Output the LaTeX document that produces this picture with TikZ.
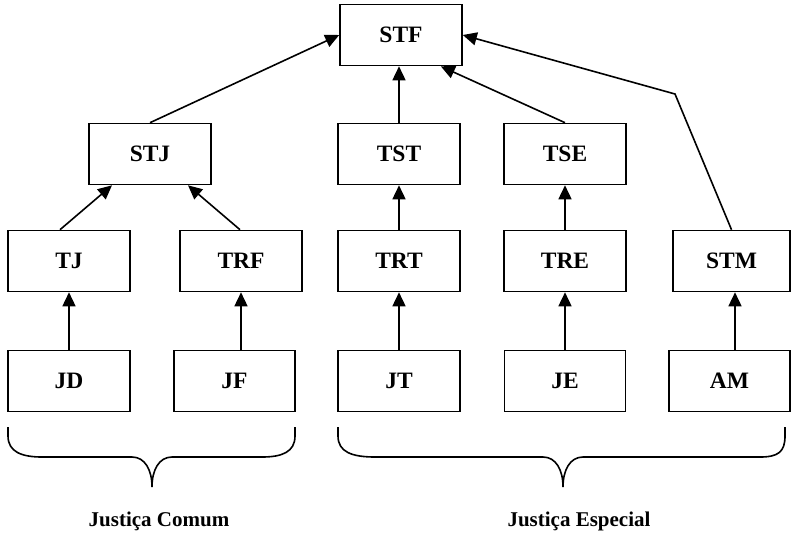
\documentclass[tikz,border=0pt]{standalone}
\usepackage{fontspec}
\setmainfont{Liberation Serif}
\usetikzlibrary{arrows.meta}
\begin{document}
\begin{tikzpicture}[x=1pt,y=-1pt,
  court/.style={draw,line width=1.6pt,minimum width=122pt,minimum height=61pt,inner sep=0pt,
    font=\fontsize{23.5}{25}\selectfont\bfseries},
  link/.style={line width=1.6pt,-{Triangle[length=14pt,width=13pt]}},
  brace/.style={line width=1.6pt},
  grp/.style={font=\fontsize{21}{23}\selectfont\bfseries}]
\useasboundingbox (0,0) rectangle (791,536);
% boxes
\node[court] (stf) at (401,35) {STF};
\node[court] (stj) at (150,154) {STJ};
\node[court] (tst) at (399,154) {TST};
\node[court] (tse) at (565,154) {TSE};
\node[court] (tj) at (69,261) {TJ};
\node[court] (trf) at (241,261) {TRF};
\node[court] (trt) at (399,261) {TRT};
\node[court] (tre) at (565,261) {TRE};
\node[court,minimum width=117pt] (stm) at (731.5,261) {STM};
\node[court] (jd) at (69,381) {JD};
\node[court,minimum width=121pt] (jf) at (234.5,381) {JF};
\node[court] (jt) at (399,381) {JT};
\node[court,minimum width=121pt] (je) at (565,381) {JE};
\node[court,minimum width=121pt] (am) at (729.5,381) {AM};
% connectors
\draw[link] (stj.north) -- (stf.west);
\draw[link] (tst.north) -- (stf.south -| tst.north);
\draw[link] (tse.north) -- ([xshift=-22pt]stf.south east);
\coordinate (bend) at (675,94);
\draw[link] (stm.north) -- (bend) -- (stf.east);
\draw[link] ([xshift=-9pt]tj.north) -- ([xshift=-38pt]stj.south);
\draw[link] ([xshift=-1pt]trf.north) -- ([xshift=38pt]stj.south);
\draw[link] (trt.north) -- (tst.south);
\draw[link] (tre.north) -- (tse.south);
\draw[link] (tj.south |- jd.north) -- (tj.south);
\draw[link] (trf.south |- jf.north) -- (trf.south);
\draw[link] (trt.south |- jt.north) -- (trt.south);
\draw[link] (tre.south |- je.north) -- (tre.south);
\draw[link] ([xshift=3.5pt]stm.south |- am.north) -- ([xshift=3.5pt]stm.south);
% braces
\draw[brace] (8,427) -- (8,436) .. controls (8,452) and (22,457) .. (42,457)
  -- (132,457) .. controls (145,457) and (152,470) .. (152,487)
  .. controls (152,470) and (159,457) .. (172,457)
  -- (262,457) .. controls (282,457) and (295,452) .. (295,436) -- (295,427);
\draw[brace] (338,427) -- (338,436) .. controls (338,452) and (352,457) .. (375,457)
  -- (543,457) .. controls (556,457) and (563,470) .. (563,487)
  .. controls (563,470) and (570,457) .. (583,457)
  -- (760,457) .. controls (778,457) and (785,452) .. (785,436) -- (785,427);
% labels
\node[grp] (comum) at (159,521) {Justiça Comum};
\node[grp] (especial) at (579,521) {Justiça Especial};
\end{tikzpicture}
\end{document}
